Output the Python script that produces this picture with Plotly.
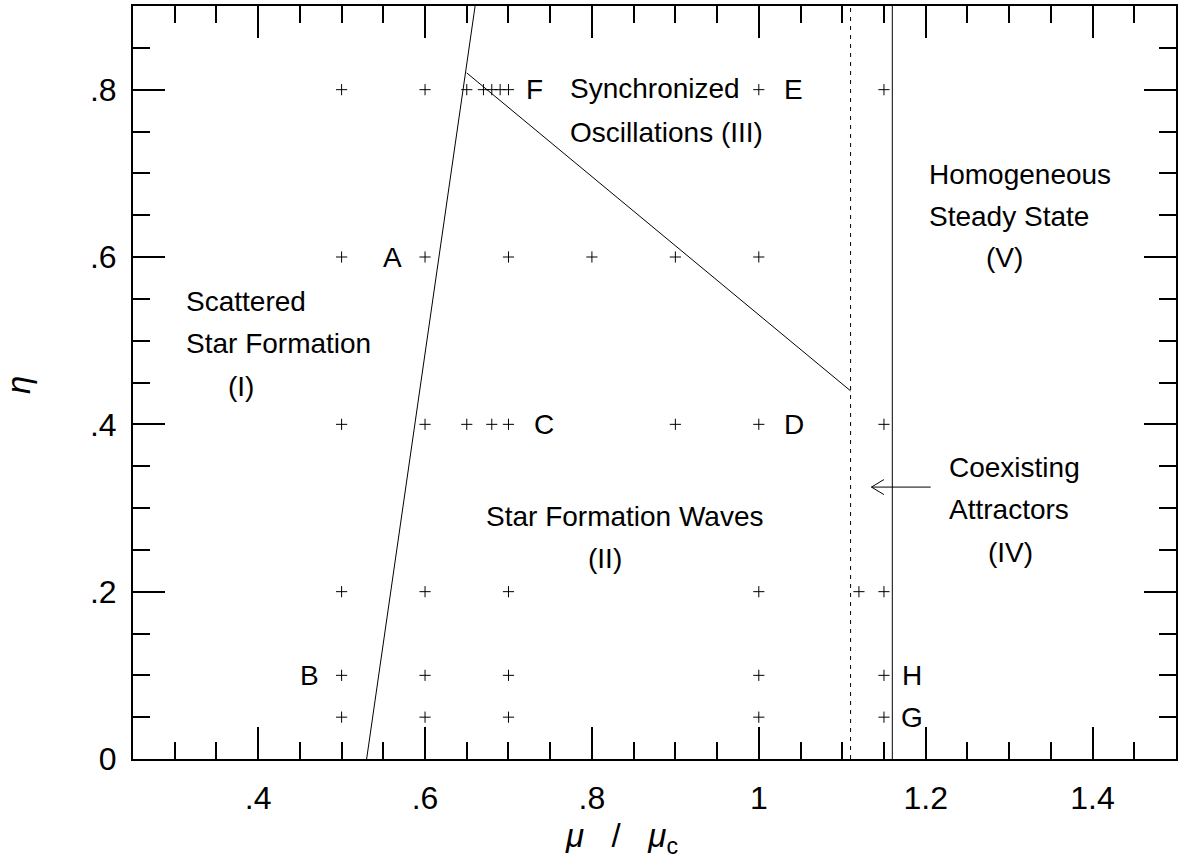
import plotly.graph_objects as go

# ---- data ----
pts_x = [0.5, 0.6, 0.65, 0.67, 0.68, 0.69, 0.70, 1.0, 1.15,
         0.5, 0.6, 0.7, 0.8, 0.9, 1.0,
         0.5, 0.6, 0.65, 0.68, 0.7, 0.9, 1.0, 1.15,
         0.5, 0.6, 0.7, 1.0, 1.12, 1.15,
         0.5, 0.6, 0.7, 1.0, 1.15,
         0.5, 0.6, 0.7, 1.0, 1.15]
pts_y = [0.8] * 9 + [0.6] * 6 + [0.4] * 8 + [0.2] * 6 + [0.1] * 5 + [0.05] * 5

bound1_x = [0.53, 0.66]
bound1_y = [0.0, 0.9]
bound2_x = [0.65, 1.11]
bound2_y = [0.82, 0.44]
dotted_x = [1.11, 1.11]
dotted_y = [0.0, 0.9]
solid_x = [1.16, 1.16]
solid_y = [0.0, 0.9]
arrow_x = [1.206, 1.135]
arrow_y = [0.325, 0.325]
arrowhead_x = [1.150, 1.135, 1.150]
arrowhead_y = [0.334, 0.325, 0.316]

x_tickvals = [0.4, 0.6, 0.8, 1.0, 1.2, 1.4]
x_ticktext = [".4", ".6", ".8", "1", "1.2", "1.4"]
y_tickvals = [0.0, 0.2, 0.4, 0.6, 0.8]
y_ticktext = ["0", ".2", ".4", ".6", ".8"]

point_labels = ["A", "B", "C", "D", "E", "F", "H", "G"]
point_label_x = [0.561, 0.462, 0.743, 1.042, 1.042, 0.731, 1.183, 1.183]
point_label_y = [0.6, 0.1, 0.4, 0.4, 0.8, 0.8, 0.1, 0.05]

region_text = ["Scattered", "Star Formation", "(I)",
               "Star Formation Waves", "(II)",
               "Synchronized", "Oscillations (III)",
               "Coexisting", "Attractors", "(IV)",
               "Homogeneous", "Steady State", "(V)"]
region_x = [0.311, 0.311, 0.362,
            0.671, 0.793,
            0.771, 0.771,
            1.226, 1.226, 1.272,
            1.202, 1.202, 1.270]
region_y = [0.547, 0.497, 0.445,
            0.290, 0.240,
            0.801, 0.749,
            0.348, 0.298, 0.247,
            0.699, 0.649, 0.599]

x_title = "<i>\u03bc</i>\u00a0\u00a0\u00a0/\u00a0\u00a0\u00a0<i>\u03bc</i><sub>c</sub>"
y_title = "<i>\u03b7</i>"

FONT = "Liberation Sans, Arial, Helvetica, sans-serif"
fig = go.Figure()

line_style = dict(color="black", width=1)
fig.add_trace(go.Scatter(x=bound1_x, y=bound1_y, mode="lines", line=line_style, hoverinfo="skip"))
fig.add_trace(go.Scatter(x=bound2_x, y=bound2_y, mode="lines", line=line_style, hoverinfo="skip"))
fig.add_trace(go.Scatter(x=dotted_x, y=dotted_y, mode="lines",
                         line=dict(color="black", width=1, dash="4px,5px"), hoverinfo="skip"))
fig.add_trace(go.Scatter(x=solid_x, y=solid_y, mode="lines", line=line_style, hoverinfo="skip"))
fig.add_trace(go.Scatter(x=arrow_x, y=arrow_y, mode="lines", line=line_style, hoverinfo="skip"))
fig.add_trace(go.Scatter(x=arrowhead_x, y=arrowhead_y, mode="lines", line=line_style, hoverinfo="skip"))
fig.add_trace(go.Scatter(x=pts_x, y=pts_y, mode="markers",
                         marker=dict(symbol="cross-thin", size=8, line=dict(color="black", width=1)),
                         hoverinfo="skip"))

for t, x, y in zip(point_labels, point_label_x, point_label_y):
    fig.add_annotation(x=x, y=y, text=t, showarrow=False, xanchor="center", yanchor="middle",
                       font=dict(family=FONT, size=28, color="black"))
for t, x, y in zip(region_text, region_x, region_y):
    fig.add_annotation(x=x, y=y, text=t, showarrow=False, xanchor="left", yanchor="middle",
                       font=dict(family=FONT, size=28, color="black"))

# axis titles
fig.add_annotation(xref="paper", yref="paper", x=0.468, y=-0.105, text=x_title, showarrow=False,
                   xanchor="center", yanchor="middle", font=dict(family=FONT, size=33, color="black"))
fig.add_annotation(xref="paper", yref="paper", x=-0.110, y=0.497, text=y_title, showarrow=False,
                   textangle=-90, xanchor="center", yanchor="middle",
                   font=dict(family=FONT, size=33, color="black"))

axis_common = dict(showgrid=False, zeroline=False, showline=True, linecolor="black", linewidth=2,
                   mirror="ticks", ticks="inside", ticklen=32, tickwidth=1.5, tickcolor="black",
                   tickfont=dict(family=FONT, size=32, color="black"))

fig.update_xaxes(range=[0.25, 1.5], tickmode="array", tickvals=x_tickvals, ticktext=x_ticktext,
                 minor=dict(dtick=0.05, tick0=0, ticks="inside", ticklen=17, tickwidth=1.5, tickcolor="black"),
                 ticklabelstandoff=10, **axis_common)
fig.update_yaxes(range=[0, 0.9], tickmode="array", tickvals=y_tickvals, ticktext=y_ticktext,
                 minor=dict(dtick=0.05, tick0=0, ticks="inside", ticklen=17, tickwidth=1.5, tickcolor="black"),
                 ticklabelstandoff=8, **axis_common)

fig.update_layout(width=1179, height=864, showlegend=False,
                  margin=dict(l=133, r=1, t=6, b=105),
                  paper_bgcolor="white", plot_bgcolor="white")

fig.write_html("out.html")
